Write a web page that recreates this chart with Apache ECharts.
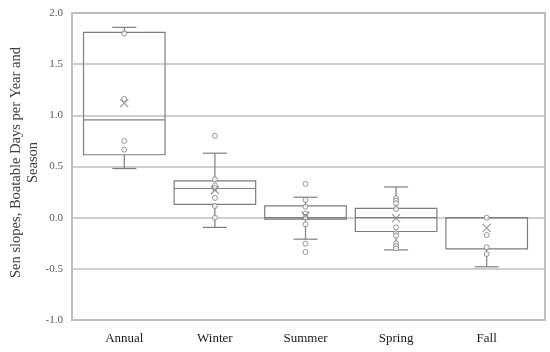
<!DOCTYPE html>
<html><head><meta charset="utf-8">
<script src="https://cdn.jsdelivr.net/npm/echarts@6/dist/echarts.min.js"></script>
<style>html,body{margin:0;padding:0;background:#fff}#c{width:550px;height:352px}</style>
</head><body><div id="c"></div>
<script>
var categories = ['Annual', 'Winter', 'Summer', 'Spring', 'Fall'];
var whiskerLow = [0.48, -0.095, -0.21, -0.315, -0.48];
var q1 = [0.615, 0.13, -0.015, -0.135, -0.305];
var median = [0.955, 0.285, 0.0, 0.0, 0.0];
var q3 = [1.81, 0.36, 0.115, 0.09, 0.0];
var whiskerHigh = [1.86, 0.63, 0.2, 0.3, 0.0];
var means = [1.12, 0.27, 0.02, -0.005, -0.1];
var pointsAnnual = [1.8, 1.16, 0.75, 0.665];
var pointsWinter = [0.8, 0.374, 0.316, 0.29, 0.193, 0.114, 0.0];
var pointsSummer = [0.33, 0.173, 0.107, 0.04, 0.003, -0.065, -0.254, -0.336];
var pointsSpring = [0.19, 0.166, 0.14, 0.085, -0.095, -0.153, -0.176, -0.25, -0.277, -0.3];
var pointsFall = [0.0, -0.17, -0.29, -0.355];
var yTicks = [-1.0, -0.5, 0.0, 0.5, 1.0, 1.5, 2.0];

var allPoints = [pointsAnnual, pointsWinter, pointsSummer, pointsSpring, pointsFall];
var pointData = [];
allPoints.forEach(function (arr, i) { arr.forEach(function (v) { pointData.push([i, v]); }); });
var boxData = categories.map(function (c, i) { return [i, whiskerLow[i], q1[i], median[i], q3[i], whiskerHigh[i]]; });
var meanData = means.map(function (v, i) { return [i, v]; });

var stroke = '#7f7f7f';
var chart = echarts.init(document.getElementById('c'));
chart.setOption({
  animation: false,
  grid: [
    { left: 72, top: 13, width: 473, height: 307, show: true, borderColor: '#bfbfbf', borderWidth: 2, backgroundColor: 'transparent', containLabel: false, outerBoundsMode: 'none' },
    { left: 79, top: 13, width: 453, height: 307, containLabel: false, outerBoundsMode: 'none' }
  ],
  xAxis: [
    { gridIndex: 0, type: 'value', min: 0, max: 1, show: false },
    { gridIndex: 1, type: 'category', data: categories, boundaryGap: true,
      axisLine: { show: false }, axisTick: { show: false }, splitLine: { show: false },
      axisLabel: { margin: 12, color: '#1a1a1a', fontFamily: 'Liberation Serif', fontSize: 13 } }
  ],
  yAxis: [
    { gridIndex: 0, type: 'value', min: -1, max: 2, interval: 0.5,
      axisLine: { show: false }, axisTick: { show: false },
      splitLine: { lineStyle: { color: '#bfbfbf', width: 1.5 } },
      axisLabel: { margin: 9, color: '#595959', fontFamily: 'Liberation Serif', fontSize: 11,
        formatter: function (v) { return v.toFixed(1); } },
      name: 'Sen slopes, Boatable Days per Year and\nSeason', nameLocation: 'middle', nameRotate: 90, nameGap: 30,
      nameMoveOverlap: false,
      nameTextStyle: { color: '#404040', fontFamily: 'Liberation Serif', fontSize: 14.5, lineHeight: 17, padding: [0, 0, 0, 8] } },
    { gridIndex: 1, type: 'value', min: -1, max: 2, interval: 0.5, show: false }
  ],
  series: [
    {
      type: 'custom', xAxisIndex: 1, yAxisIndex: 1, data: boxData,
      renderItem: function (params, api) {
        var x = api.value(0);
        var band = api.size([1, 0])[0];
        var bw = band * 0.9, cw = band * 0.265;
        var pLow = api.coord([x, api.value(1)]);
        var pQ1 = api.coord([x, api.value(2)]);
        var pMed = api.coord([x, api.value(3)]);
        var pQ3 = api.coord([x, api.value(4)]);
        var pHigh = api.coord([x, api.value(5)]);
        var cx = pQ1[0];
        var st = { stroke: stroke, lineWidth: 1.2, fill: null };
        var ch = [
          { type: 'rect', shape: { x: cx - bw / 2, y: pQ3[1], width: bw, height: pQ1[1] - pQ3[1] }, style: { stroke: stroke, lineWidth: 1.2, fill: 'none' } },
          { type: 'line', shape: { x1: cx - bw / 2, y1: pMed[1], x2: cx + bw / 2, y2: pMed[1] }, style: st },
          { type: 'line', shape: { x1: cx, y1: pQ1[1], x2: cx, y2: pLow[1] }, style: st },
          { type: 'line', shape: { x1: cx - cw / 2, y1: pLow[1], x2: cx + cw / 2, y2: pLow[1] }, style: st }
        ];
        if (pHigh[1] < pQ3[1] - 0.5) {
          ch.push({ type: 'line', shape: { x1: cx, y1: pQ3[1], x2: cx, y2: pHigh[1] }, style: st });
          ch.push({ type: 'line', shape: { x1: cx - cw / 2, y1: pHigh[1], x2: cx + cw / 2, y2: pHigh[1] }, style: st });
        }
        return { type: 'group', children: ch };
      },
      z: 3
    },
    {
      type: 'scatter', xAxisIndex: 1, yAxisIndex: 1, data: pointData,
      symbol: 'circle', symbolSize: 5,
      itemStyle: { color: '#ffffff', borderColor: stroke, borderWidth: 1 }, z: 4
    },
    {
      type: 'scatter', xAxisIndex: 1, yAxisIndex: 1, data: meanData,
      symbol: 'path://M0,0L10,10M10,0L0,10', symbolSize: 8,
      itemStyle: { color: 'none', borderColor: stroke, borderWidth: 1.2 }, z: 5
    }
  ]
});
</script></body></html>
